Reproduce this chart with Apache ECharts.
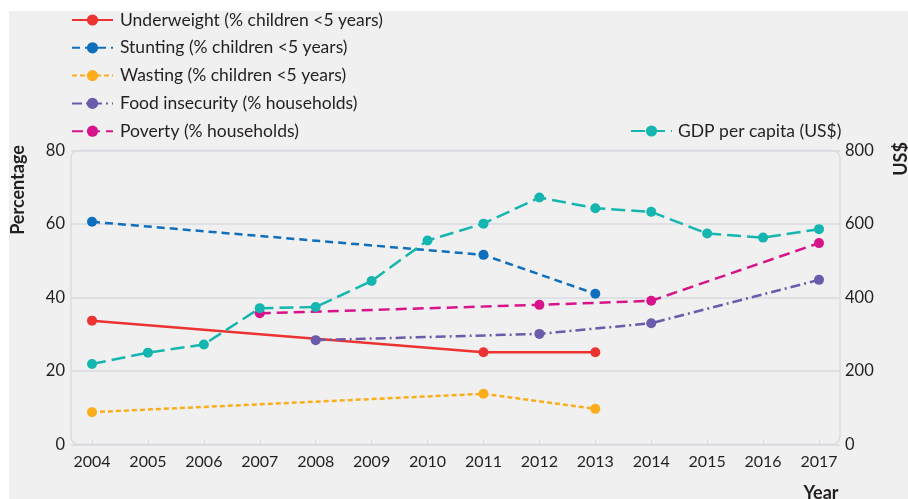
<!DOCTYPE html>
<html>
<head>
<meta charset="utf-8">
<script src="https://cdn.jsdelivr.net/npm/echarts@6/dist/echarts.min.js"></script>
<style>
html,body{margin:0;padding:0;background:#fff;}
#c{width:908px;height:499px;}
</style>
</head>
<body>
<div id="c"></div>
<script>
var years = ['2004','2005','2006','2007','2008','2009','2010','2011','2012','2013','2014','2015','2016','2017'];
var underweight = [33.7,null,null,null,null,null,null,25.1,null,25.1,null,null,null,null];
var stunting = [60.6,null,null,null,null,null,null,51.6,null,41.0,null,null,null,null];
var wasting = [8.8,null,null,null,null,null,null,13.8,null,9.7,null,null,null,null];
var foodInsecurity = [null,null,null,null,28.4,null,null,null,30.1,null,33.0,null,null,44.8];
var poverty = [null,null,null,35.7,null,null,null,null,38.0,null,39.1,null,null,54.8];
var gdp = [219,250,272,371,374,445,555,601,672,643,633,574,563,586];
var leftTicks = {min:0,max:80,interval:20};
var rightTicks = {min:0,max:800,interval:200};

var FONT = 'Lato';
var TXT = '#231f20';
var GRIDC = '#d9dbe1';

function mk(name, data, color, dash, yIdx){
  return {
    name: name, type:'line', data:data, xAxisIndex:0, yAxisIndex:yIdx,
    connectNulls:true, symbol:'circle', symbolSize:10, showSymbol:true,
    itemStyle:{color:color},
    lineStyle:{color:color, width:2.5, type:dash},
    emphasis:{disabled:true}, animation:false, z:3
  };
}

var chart = echarts.init(document.getElementById('c'), null, {renderer:'canvas'});
chart.setOption({
  backgroundColor:'#ffffff',
  animation:false,
  textStyle:{fontFamily:FONT},
  graphic:[
    {type:'rect', z:-100, silent:true, shape:{x:9,y:11,width:899,height:488}, style:{fill:'#f0f0f0'}},
    {type:'rect', z:-50, silent:true, shape:{x:71,y:150.5,width:769,height:294,r:8}, style:{fill:'none',stroke:GRIDC,lineWidth:1.5}},
    {type:'text', x:18, y:190, rotation:Math.PI/2, style:{text:'Percentage', font:'bold 18px Lato', fill:TXT, textAlign:'center', textVerticalAlign:'middle'}},
    {type:'text', x:901, y:159, rotation:Math.PI/2, style:{text:'US$', font:'bold 18px Lato', fill:TXT, textAlign:'center', textVerticalAlign:'middle'}},
    {type:'text', x:821, y:493, style:{text:'Year', font:'bold 18px Lato', fill:TXT, textAlign:'center', textVerticalAlign:'middle'}}
  ],
  legend:[
    {
      data:['Underweight (% children <5 years)','Stunting (% children <5 years)','Wasting (% children <5 years)','Food insecurity (% households)','Poverty (% households)'],
      orient:'vertical', left:71, top:11, padding:0, itemWidth:41, itemHeight:14, itemGap:9.8,
      textStyle:{fontFamily:FONT, fontSize:17.5, color:TXT, padding:[0,0,0,2]},
      selectedMode:false
    },
    {
      data:['GDP per capita (US$)'],
      left:630, top:122, padding:0, itemWidth:41, itemHeight:14,
      textStyle:{fontFamily:FONT, fontSize:17.5, color:TXT, padding:[0,0,0,1]},
      selectedMode:false
    }
  ],
  grid:[
    {left:92, right:89, top:150.5, bottom:54.5, containLabel:false},
    {left:71, right:68, top:150.5, bottom:54.5, containLabel:false}
  ],
  xAxis:[
    {type:'category', gridIndex:0, data:years, boundaryGap:false,
      axisLine:{show:false},
      axisTick:{show:true, inside:true, length:5, lineStyle:{color:GRIDC, width:1}},
      axisLabel:{fontFamily:FONT, fontSize:16, color:TXT, margin:9, interval:0},
      splitLine:{show:false}},
    {type:'value', gridIndex:1, show:false, min:0, max:1}
  ],
  yAxis:[
    {type:'value', gridIndex:0, min:leftTicks.min, max:leftTicks.max, interval:leftTicks.interval, show:false},
    {type:'value', gridIndex:0, position:'right', min:rightTicks.min, max:rightTicks.max, interval:rightTicks.interval, show:false},
    {type:'value', gridIndex:1, min:leftTicks.min, max:leftTicks.max, interval:leftTicks.interval,
      axisLine:{show:false}, axisTick:{show:false},
      axisLabel:{fontFamily:FONT, fontSize:16.5, color:TXT, margin:6},
      splitLine:{show:true, lineStyle:{color:GRIDC, width:1.5}}},
    {type:'value', gridIndex:1, position:'right', min:rightTicks.min, max:rightTicks.max, interval:rightTicks.interval,
      axisLine:{show:false}, axisTick:{show:false},
      axisLabel:{fontFamily:FONT, fontSize:16.5, color:TXT, margin:5},
      splitLine:{show:false}}
  ],
  series:[
    mk('Underweight (% children <5 years)', underweight, '#ec3331', 'solid', 0),
    mk('Stunting (% children <5 years)', stunting, '#0f6fbd', [8,5], 0),
    mk('Wasting (% children <5 years)', wasting, '#fbad1c', [5,3], 0),
    mk('Food insecurity (% households)', foodInsecurity, '#6c5aab', [10,4,2,4], 0),
    mk('Poverty (% households)', poverty, '#d8148b', [11,6], 0),
    mk('GDP per capita (US$)', gdp, '#14b6af', [14,6], 1)
  ]
});
</script>
</body>
</html>
